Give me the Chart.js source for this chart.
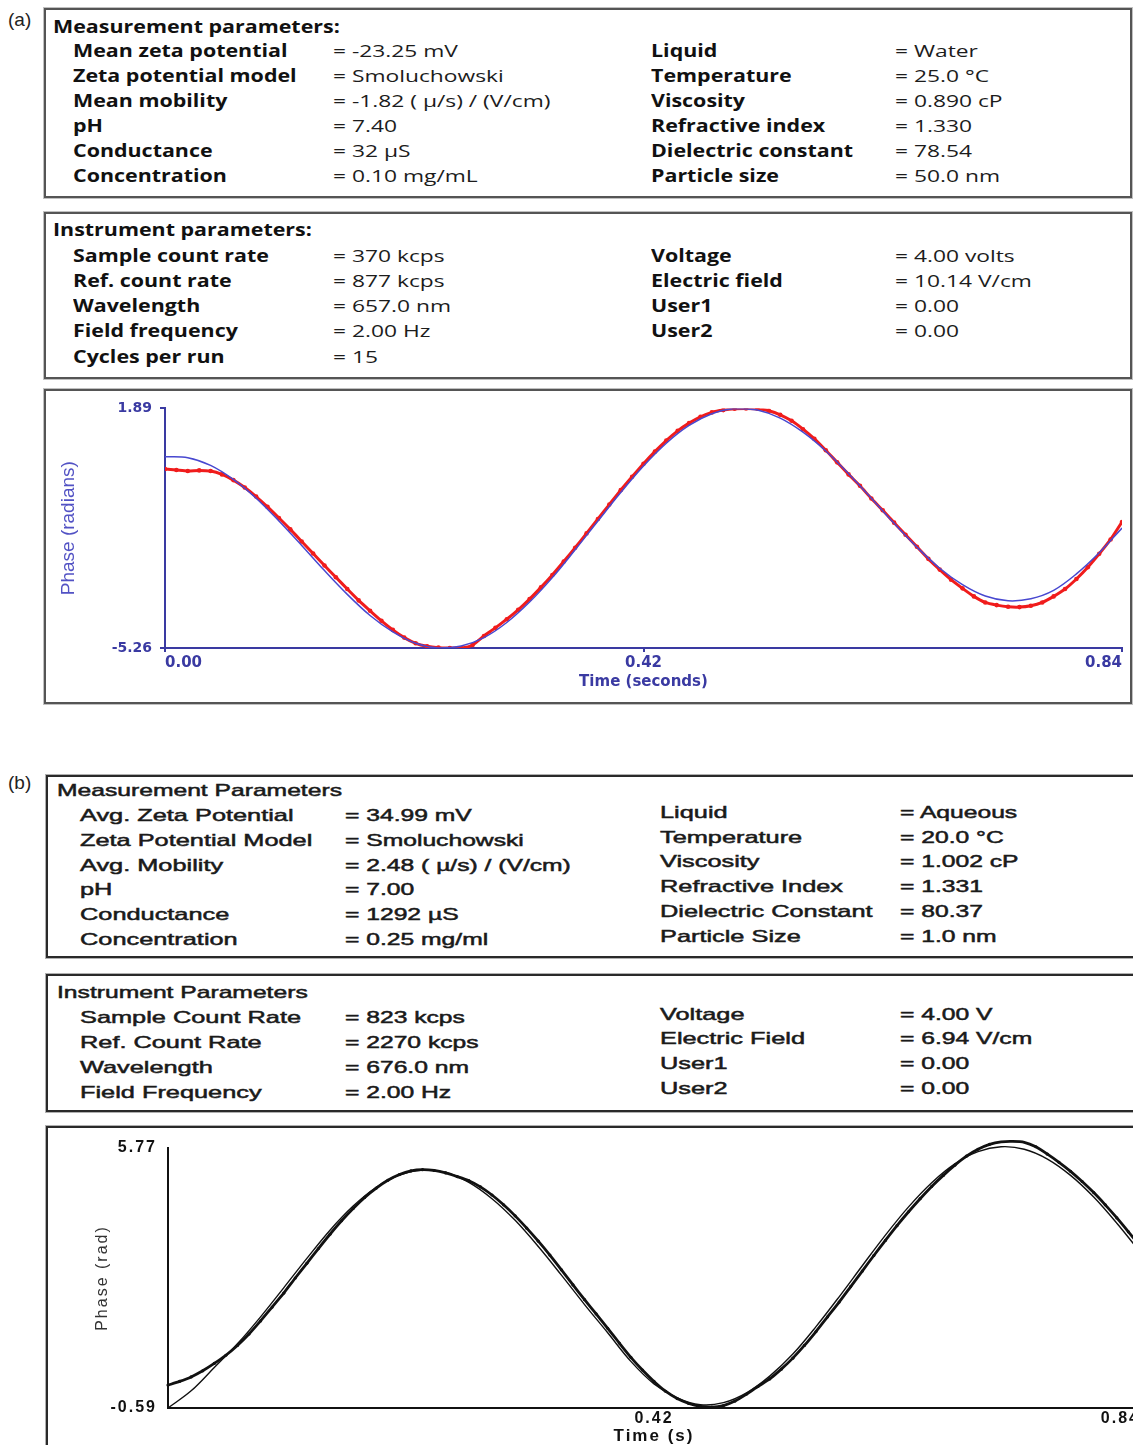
<!DOCTYPE html>
<html>
<head>
<meta charset="utf-8">
<script src="https://cdn.jsdelivr.net/npm/chart.js@4.4.1/dist/chart.umd.min.js"></script>
<style>
  html, body { margin: 0; padding: 0; background: #fff; }
  body { width: 1133px; height: 1445px; overflow: hidden; position: relative; }
  .box { position: absolute; box-sizing: border-box; background: #fff; }
  .boxA { border: 2px solid #555; box-shadow: 0 0 0 1px #c0c0c0; }
  .boxB { border: 2px solid #2a2a2a; border-right: none; box-shadow: 0 0 0 1px #b0b0b0; }
  .t { position: absolute; white-space: nowrap; transform-origin: 0 50%; line-height: 20px; height: 20px; }
  .fa { font-family: "Open Sans", "Noto Sans", sans-serif; font-size: 17px; color: #1c1c1c; transform: scaleX(1.34); }
  .fa.b { font-weight: 700; color: #111; transform: scaleX(1.26); }
  .fb { font-family: "Liberation Sans", Arial, sans-serif; font-size: 17px; color: #1a1a1a; transform: scaleX(1.45); -webkit-text-stroke: 0.5px #1a1a1a; }
  .fb.l { transform: scaleX(1.49); }
  .tag { position: absolute; font-family: "Liberation Sans", Arial, sans-serif; font-size: 19px; color: #222; line-height: 20px; }
  canvas { position: absolute; }
</style>
</head>
<body>
<div class="tag" style="left:8px; top:10px;">(a)</div>
<div class="box boxA" style="left:44px; top:8px; width:1088px; height:190px;"></div>
<div class="box boxA" style="left:44px; top:212px; width:1088px; height:167px;"></div>
<div class="box boxA" style="left:44px; top:389px; width:1088px; height:315px;"></div>
<canvas id="chartA" width="1082" height="309" style="left:46px; top:392px;"></canvas>

<div class="tag" style="left:8px; top:773px;">(b)</div>
<div class="box boxB" style="left:46px; top:775px; width:1200px; height:183px;"></div>
<div class="box boxB" style="left:46px; top:974px; width:1200px; height:138px;"></div>
<div class="box boxB" style="left:46px; top:1126px; width:1200px; height:400px;"></div>
<canvas id="chartB" width="1110" height="320" style="left:48px; top:1129px;"></canvas>

<script>
// ---------- parameter tables ----------
const measTitleA = 'Measurement parameters:';
const measLabelsA = ['Mean zeta potential', 'Zeta potential model', 'Mean mobility', 'pH', 'Conductance', 'Concentration'];
const measValuesA = ['= -23.25 mV', '= Smoluchowski', '= -1.82 ( \u00b5/s) / (V/cm)', '= 7.40', '= 32 \u00b5S', '= 0.10 mg/mL'];
const measLabelsA2 = ['Liquid', 'Temperature', 'Viscosity', 'Refractive index', 'Dielectric constant', 'Particle size'];
const measValuesA2 = ['= Water', '= 25.0 \u00b0C', '= 0.890 cP', '= 1.330', '= 78.54', '= 50.0 nm'];
const instTitleA = 'Instrument parameters:';
const instLabelsA = ['Sample count rate', 'Ref. count rate', 'Wavelength', 'Field frequency', 'Cycles per run'];
const instValuesA = ['= 370 kcps', '= 877 kcps', '= 657.0 nm', '= 2.00 Hz', '= 15'];
const instLabelsA2 = ['Voltage', 'Electric field', 'User1', 'User2'];
const instValuesA2 = ['= 4.00 volts', '= 10.14 V/cm', '= 0.00', '= 0.00'];

const measTitleB = 'Measurement Parameters';
const measLabelsB = ['Avg. Zeta Potential', 'Zeta Potential Model', 'Avg. Mobility', 'pH', 'Conductance', 'Concentration'];
const measValuesB = ['= 34.99 mV', '= Smoluchowski', '= 2.48 ( \u00b5/s) / (V/cm)', '= 7.00', '= 1292 \u00b5S', '= 0.25 mg/ml'];
const measLabelsB2 = ['Liquid', 'Temperature', 'Viscosity', 'Refractive Index', 'Dielectric Constant', 'Particle Size'];
const measValuesB2 = ['= Aqueous', '= 20.0 \u00b0C', '= 1.002 cP', '= 1.331', '= 80.37', '= 1.0 nm'];
const instTitleB = 'Instrument Parameters';
const instLabelsB = ['Sample Count Rate', 'Ref. Count Rate', 'Wavelength', 'Field Frequency'];
const instValuesB = ['= 823 kcps', '= 2270 kcps', '= 676.0 nm', '= 2.00 Hz'];
const instLabelsB2 = ['Voltage', 'Electric Field', 'User1', 'User2'];
const instValuesB2 = ['= 4.00 V', '= 6.94 V/cm', '= 0.00', '= 0.00'];

// ---------- phase plot data ----------
const timeFit = [0.00, 0.02, 0.04, 0.06, 0.08, 0.10, 0.12, 0.14, 0.16, 0.18, 0.20, 0.22, 0.24, 0.26, 0.28, 0.30,
  0.32, 0.34, 0.36, 0.38, 0.40, 0.42, 0.44, 0.46, 0.48, 0.50, 0.52, 0.54, 0.56, 0.58, 0.60, 0.62, 0.64, 0.66,
  0.68, 0.70, 0.72, 0.74, 0.76, 0.78, 0.80, 0.82, 0.84];
const timeData = [0.00, 0.01, 0.02, 0.03, 0.04, 0.05, 0.06, 0.07, 0.08, 0.09, 0.10, 0.11, 0.12, 0.13, 0.14, 0.15,
  0.16, 0.17, 0.18, 0.19, 0.20, 0.21, 0.22, 0.23, 0.24, 0.25, 0.26, 0.27, 0.28, 0.29, 0.30, 0.31, 0.32, 0.33,
  0.34, 0.35, 0.36, 0.37, 0.38, 0.39, 0.40, 0.41, 0.42, 0.43, 0.44, 0.45, 0.46, 0.47, 0.48, 0.49, 0.50, 0.51,
  0.52, 0.53, 0.54, 0.55, 0.56, 0.57, 0.58, 0.59, 0.60, 0.61, 0.62, 0.63, 0.64, 0.65, 0.66, 0.67, 0.68, 0.69,
  0.70, 0.71, 0.72, 0.73, 0.74, 0.75, 0.76, 0.77, 0.78, 0.79, 0.80, 0.81, 0.82, 0.83, 0.84];

// (a) fitted phase (blue) and measured phase (red), radians
const fitA = [0.45, 0.42, 0.19, -0.23, -0.79, -1.47, -2.20, -2.95, -3.66, -4.29, -4.78, -5.12, -5.26, -5.20, -4.95,
  -4.50, -3.89, -3.16, -2.33, -1.47, -0.62, 0.17, 0.85, 1.38, 1.73, 1.89, 1.84, 1.60, 1.18, 0.62, -0.06, -0.79,
  -1.54, -2.25, -2.88, -3.37, -3.71, -3.85, -3.79, -3.54, -3.05, -2.42, -1.68];
const dataA = [0.08, 0.05, 0.02, 0.04, 0.02, -0.08, -0.25, -0.47, -0.74, -1.05, -1.38, -1.72, -2.08, -2.44, -2.80,
  -3.15, -3.50, -3.84, -4.15, -4.45, -4.72, -4.95, -5.12, -5.21, -5.25, -5.26, -5.26, -5.17, -4.90, -4.66, -4.40,
  -4.12, -3.80, -3.45, -3.08, -2.68, -2.27, -1.84, -1.41, -0.98, -0.55, -0.15, 0.24, 0.60, 0.93, 1.22, 1.45, 1.64,
  1.77, 1.84, 1.88, 1.89, 1.88, 1.82, 1.70, 1.52, 1.27, 0.98, 0.64, 0.28, -0.08, -0.42, -0.80, -1.15, -1.52, -1.88,
  -2.24, -2.60, -2.92, -3.22, -3.48, -3.72, -3.90, -3.98, -4.03, -4.04, -4.00, -3.90, -3.72, -3.50, -3.20, -2.85,
  -2.45, -2.02, -1.50];

// (b) fitted phase (thin) and measured phase (heavy), radians
const fitB = [-0.59, -0.17, 0.40, 0.98, 1.64, 2.35, 3.07, 3.76, 4.35, 4.81, 5.11, 5.23, 5.17, 4.93, 4.53, 4.00,
  3.36, 2.66, 1.94, 1.25, 0.55, 0.00, -0.34, -0.51, -0.46, -0.22, 0.19, 0.73, 1.40, 2.13, 2.89, 3.64, 4.33, 4.92,
  5.38, 5.68, 5.80, 5.74, 5.50, 5.10, 4.57, 3.93, 3.23];
const dataB = [-0.03, 0.06, 0.17, 0.32, 0.50, 0.70, 0.94, 1.22, 1.54, 1.88, 2.22, 2.59, 2.95, 3.31, 3.66, 3.99,
  4.29, 4.56, 4.79, 4.98, 5.12, 5.21, 5.24, 5.22, 5.16, 5.07, 4.97, 4.82, 4.62, 4.38, 4.11, 3.81, 3.49, 3.15,
  2.79, 2.42, 2.06, 1.71, 1.36, 1.00, 0.65, 0.34, 0.06, -0.18, -0.36, -0.48, -0.55, -0.57, -0.53, -0.42, -0.25,
  -0.06, 0.12, 0.36, 0.63, 0.94, 1.28, 1.64, 2.00, 2.38, 2.76, 3.14, 3.51, 3.87, 4.21, 4.53, 4.83, 5.10, 5.35,
  5.57, 5.74, 5.86, 5.92, 5.93, 5.91, 5.80, 5.62, 5.42, 5.20, 4.95, 4.68, 4.38, 4.06, 3.72, 3.37];

// axis ticks
const xTicks = [0, 0.42, 0.84];
const xTickLabelsA = ['0.00', '0.42', '0.84'];
const xTickLabelsB = ['', '0.42', '0.84'];
const yTicksA = [-5.26, 1.89];
const yTickLabelsA = ['-5.26', '1.89'];
const yTicksB = [-0.59, 5.77];
const yTickLabelsB = ['-0.59', '5.77'];

// ---------- text tables ----------
function addText(txt, x, cy, cls) {
  const d = document.createElement('div');
  d.className = 't ' + cls;
  d.textContent = txt;
  d.style.left = x + 'px';
  d.style.top = (cy - 10) + 'px';
  document.body.appendChild(d);
}
function addColumn(labels, x, rows, cls) {
  labels.forEach((s, i) => addText(s, x, rows[i], cls));
}

// panel (a)
const rowsA1 = [51, 76, 101, 126, 151, 176];
addText(measTitleA, 53, 27, 'fa b');
addColumn(measLabelsA, 73, rowsA1, 'fa b');
addColumn(measValuesA, 333, rowsA1, 'fa');
addColumn(measLabelsA2, 651, rowsA1, 'fa b');
addColumn(measValuesA2, 895, rowsA1, 'fa');
const rowsA2 = [256, 281, 306, 331, 357];
addText(instTitleA, 53, 230, 'fa b');
addColumn(instLabelsA, 73, rowsA2, 'fa b');
addColumn(instValuesA, 333, rowsA2, 'fa');
addColumn(instLabelsA2, 651, rowsA2, 'fa b');
addColumn(instValuesA2, 895, rowsA2, 'fa');

// panel (b)
const rowsB1 = [816, 841, 866, 890, 915, 940];
const rowsB1r = [813, 838, 862, 887, 912, 937];
addText(measTitleB, 57, 791, 'fb');
addColumn(measLabelsB, 80, rowsB1, 'fb l');
addColumn(measValuesB, 345, rowsB1, 'fb');
addColumn(measLabelsB2, 660, rowsB1r, 'fb l');
addColumn(measValuesB2, 900, rowsB1r, 'fb');
const rowsB2 = [1018, 1043, 1068, 1093];
const rowsB2r = [1015, 1039, 1064, 1089];
addText(instTitleB, 57, 993, 'fb');
addColumn(instLabelsB, 80, rowsB2, 'fb l');
addColumn(instValuesB, 345, rowsB2, 'fb');
addColumn(instLabelsB2, 660, rowsB2r, 'fb l');
addColumn(instValuesB2, 900, rowsB2r, 'fb');

// ---------- charts ----------
const pts = (xs, ys) => xs.map((x, i) => ({ x: x, y: ys[i] }));
const setTicks = (vals) => (scale) => { scale.ticks = vals.map(v => ({ value: v })); };

// widens the axis lettering of the second plot
const letterSpacingPlugin = {
  id: 'letterSpacing',
  beforeDraw(chart, args, opts) { chart.ctx.letterSpacing = opts.value || '0px'; }
};

const navy = '#3a3aa2';
new Chart(document.getElementById('chartA'), {
  type: 'line',
  data: {
    datasets: [
      { data: pts(timeFit, fitA), borderColor: '#4848d0', borderWidth: 1.5, pointRadius: 0, tension: 0.35, fill: false },
      { data: pts(timeData, dataA), borderColor: '#f01c1c', backgroundColor: '#f01c1c', borderWidth: 3,
        pointRadius: 2.3, pointBorderWidth: 0, tension: 0.2, fill: false }
    ]
  },
  options: {
    responsive: false, animation: false, devicePixelRatio: 1, events: [],
    layout: { padding: { left: 0, right: 6, top: 16, bottom: 0 } },
    plugins: { legend: { display: false }, tooltip: { enabled: false } },
    scales: {
      x: {
        type: 'linear', min: 0, max: 0.84,
        afterBuildTicks: setTicks(xTicks),
        afterFit: (s) => { s.height = 53; },
        ticks: { align: 'inner', maxRotation: 0, padding: 2, color: navy,
          font: { family: 'DejaVu Sans', weight: 'bold', size: 15 },
          callback: (v, i) => xTickLabelsA[i] },
        grid: { display: true, drawOnChartArea: false, drawTicks: true, tickLength: 4, color: navy, lineWidth: 2 },
        border: { display: true, color: navy, width: 2 },
        title: { display: true, text: 'Time (seconds)', color: navy,
          font: { family: 'DejaVu Sans', weight: 'bold', size: 15 }, padding: { top: 0, bottom: 10 } }
      },
      y: {
        type: 'linear', min: -5.26, max: 1.89,
        afterBuildTicks: setTicks(yTicksA),
        afterFit: (s) => { s.width = 119; },
        ticks: { padding: 8, color: navy, font: { family: 'DejaVu Sans', weight: 'bold', size: 14 },
          callback: (v, i) => yTickLabelsA[i] },
        grid: { display: true, drawOnChartArea: false, drawTicks: true, tickLength: 5, color: navy, lineWidth: 2 },
        border: { display: true, color: navy, width: 2 },
        title: { display: true, text: 'Phase (radians)', color: '#5252c4',
          font: { family: 'Liberation Sans', size: 19 }, padding: { top: 11, bottom: 0 } }
      }
    }
  }
});

new Chart(document.getElementById('chartB'), {
  type: 'line',
  plugins: [letterSpacingPlugin],
  data: {
    datasets: [
      { data: pts(timeData, dataB), borderColor: '#111', backgroundColor: '#111', borderWidth: 2.8,
        pointRadius: 1.6, pointBorderWidth: 0, tension: 0.2, fill: false, clip: false },
      { data: pts(timeFit, fitB), borderColor: '#111', borderWidth: 1.4, pointRadius: 0, tension: 0.35,
        fill: false, clip: false }
    ]
  },
  options: {
    responsive: false, animation: false, devicePixelRatio: 1, events: [],
    layout: { padding: { left: 0, right: 18, top: 19, bottom: 0 } },
    plugins: { legend: { display: false }, tooltip: { enabled: false }, letterSpacing: { value: '2px' } },
    scales: {
      x: {
        type: 'linear', min: 0, max: 0.84,
        afterBuildTicks: setTicks(xTicks),
        afterFit: (s) => { s.height = 41; },
        ticks: { align: 'inner', maxRotation: 0, padding: -7, color: '#111',
          font: { family: 'Liberation Sans', weight: 'bold', size: 16 },
          callback: (v, i) => xTickLabelsB[i] },
        grid: { display: false },
        border: { display: true, color: '#111', width: 2 },
        title: { display: true, text: 'Time (s)', color: '#111',
          font: { family: 'Liberation Sans', weight: 'bold', size: 17 }, padding: { top: 0, bottom: 2 } }
      },
      y: {
        type: 'linear', min: -0.59, max: 5.77,
        afterBuildTicks: setTicks(yTicksB),
        afterFit: (s) => { s.width = 120; },
        ticks: { padding: 3, color: '#111', font: { family: 'Liberation Sans', weight: 'bold', size: 16 },
          callback: (v, i) => yTickLabelsB[i] },
        grid: { display: false },
        border: { display: true, color: '#111', width: 2 },
        title: { display: true, text: 'Phase (rad)', color: '#333',
          font: { family: 'Liberation Sans', size: 16 }, padding: { top: 45, bottom: 0 } }
      }
    }
  }
});
</script>
</body>
</html>
